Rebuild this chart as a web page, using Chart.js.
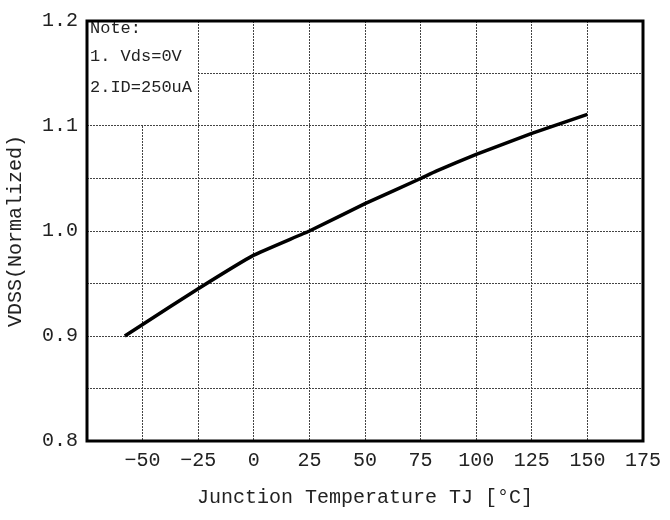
<!DOCTYPE html>
<html>
<head>
<meta charset="utf-8">
<script src="https://cdn.jsdelivr.net/npm/chart.js@4/dist/chart.umd.min.js"></script>
<style>
  html, body { margin: 0; padding: 0; background: #fff; }
</style>
</head>
<body>
<canvas id="chart" width="670" height="520"></canvas>
<script>
// curve
const tempC = [-58, -50, -25, 0, 25, 50, 75, 82, 100, 125, 150];
const vdssNorm = [0.900, 0.911, 0.945, 0.977, 1.000, 1.026, 1.050, 1.057, 1.073, 1.093, 1.111];

// axis ticks
const xTickValues = [-75, -50, -25, 0, 25, 50, 75, 100, 125, 150, 175];
const xTickLabels = ['', '\u221250', '\u221225', '0', '25', '50', '75', '100', '125', '150', '175'];
const yTickValues = [0.8, 0.9, 1.0, 1.1, 1.2];
const yTickLabels = ['0.8', '0.9', '1.0', '1.1', '1.2'];

// note in the top left corner
const noteLines = ['Note:', '1. Vds=0V', '2.ID=250uA'];
const noteCorner = { x: -25, y: 1.1 };

const FONT = 'Liberation Mono';

const notePlugin = {
    id: 'noteBox',
    beforeDatasetsDraw(chart) {
        const { ctx, chartArea, scales } = chart;
        const right = Math.floor(scales.x.getPixelForValue(noteCorner.x));
        const bottom = Math.floor(scales.y.getPixelForValue(noteCorner.y));
        ctx.save();
        ctx.fillStyle = '#fff';
        ctx.fillRect(chartArea.left, chartArea.top, right - chartArea.left, bottom - chartArea.top);
        ctx.fillStyle = '#222';
        ctx.font = '17px "' + FONT + '"';
        ctx.textBaseline = 'middle';
        const rows = [28, 56, 87];
        noteLines.forEach((line, i) => ctx.fillText(line, chartArea.left + 3, rows[i]));
        ctx.restore();
    },
    afterDraw(chart) {
        const { ctx, chartArea } = chart;
        ctx.save();
        ctx.strokeStyle = '#000';
        ctx.lineWidth = 3;
        ctx.strokeRect(chartArea.left, chartArea.top, chartArea.right - chartArea.left, chartArea.bottom - chartArea.top);
        ctx.restore();
    }
};

new Chart(document.getElementById('chart'), {
    type: 'line',
    data: {
        datasets: [{
            data: tempC.map((t, i) => ({ x: t, y: vdssNorm[i] })),
            borderColor: '#000',
            borderWidth: 3.5,
            pointRadius: 0,
            tension: 0.1,
            fill: false
        }]
    },
    options: {
        responsive: false,
        animation: false,
        layout: { padding: { top: 14, right: 27, left: 0, bottom: 0 } },
        plugins: {
            legend: { display: false },
            tooltip: { enabled: false }
        },
        scales: {
            x: {
                type: 'linear',
                min: -75,
                max: 175,
                afterFit: (scale) => { scale.height = 79; },
                afterBuildTicks: (scale) => { scale.ticks = xTickValues.map(v => ({ value: v })); },
                grid: { color: '#444', lineWidth: 1, drawTicks: false },
                border: { display: false, dash: [2, 1] },
                ticks: {
                    padding: 8,
                    color: '#222',
                    font: { family: FONT, size: 20 },
                    maxRotation: 0,
                    autoSkip: false,
                    callback: (v) => {
                        const i = xTickValues.indexOf(v);
                        return i >= 0 ? xTickLabels[i] : '';
                    }
                },
                title: {
                    display: true,
                    text: 'Junction Temperature TJ [\u00B0C]',
                    color: '#222',
                    font: { family: FONT, size: 20 },
                    padding: { top: 0, bottom: 10 }
                }
            },
            y: {
                type: 'linear',
                min: 0.8,
                max: 1.2,
                afterFit: (scale) => { scale.width = 87; },
                ticks: {
                    stepSize: 0.05,
                    padding: 9,
                    color: '#222',
                    font: { family: FONT, size: 20 },
                    autoSkip: false,
                    callback: (v) => {
                        const i = yTickValues.findIndex(t => Math.abs(t - v) < 1e-6);
                        return i >= 0 ? yTickLabels[i] : '';
                    }
                },
                grid: { color: '#444', lineWidth: 1, drawTicks: false },
                border: { display: false, dash: [2, 1] },
                title: {
                    display: true,
                    text: 'VDSS(Normalized)',
                    color: '#222',
                    font: { family: FONT, size: 20 },
                    padding: { top: 4, bottom: 0 }
                }
            }
        }
    },
    plugins: [notePlugin]
});
</script>
</body>
</html>
